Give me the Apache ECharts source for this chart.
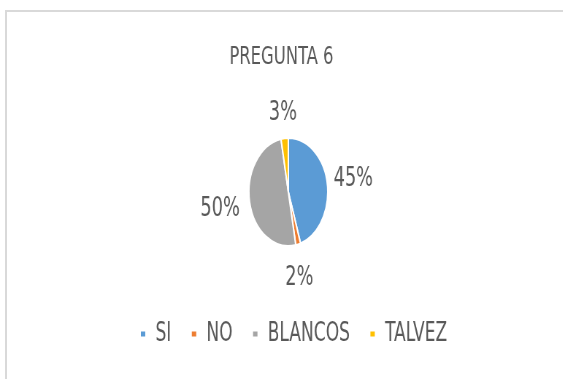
<!DOCTYPE html>
<html>
<head>
<meta charset="utf-8">
<script src="https://cdn.jsdelivr.net/npm/echarts@6/dist/echarts.min.js"></script>
<style>
  html, body { margin: 0; padding: 0; background: #fff; }
  #frame { position: relative; width: 563px; height: 379px; overflow: hidden; background: #fff; }
  #edge { position: absolute; left: 5px; top: 10px; right: -4px; bottom: -4px;
          border-left: 2px solid #d9d9d9; border-top: 2px solid #d9d9d9; }
  /* the chart is laid out wide and squeezed horizontally */
  #chart { position: absolute; left: 0; top: 0; width: 771px; height: 379px;
           transform: scaleX(0.73); transform-origin: 0 0; }
</style>
</head>
<body>
<div id="frame">
  <div id="edge"></div>
  <div id="chart"></div>
</div>
<script>
const titleText = 'PREGUNTA 6';
const categories = ['SI', 'NO', 'BLANCOS', 'TALVEZ'];
const values = [45, 2, 50, 3];
const colors = ['#5b9bd5', '#ed7d31', '#a5a5a5', '#ffc000'];

const font = '"DejaVu Sans Condensed", "Liberation Sans", sans-serif';
const textColor = '#595959';

// label placement per slice: distance beyond the rim and a sideways nudge
const labelPlacement = {
  SI: { reach: 31, dx: 0 },
  NO: { reach: 35, dx: -12 },
  BLANCOS: { reach: 36, dx: 0 },
  TALVEZ: { reach: 25, dx: 5 }
};

const chart = echarts.init(document.getElementById('chart'), null, { renderer: 'canvas' });

chart.setOption({
  animation: false,
  color: colors,
  title: {
    text: titleText,
    left: 'center',
    top: 40,
    textStyle: { fontFamily: font, fontSize: 25, fontWeight: 'normal', color: textColor }
  },
  legend: {
    data: categories,
    left: 186,
    top: 316,
    icon: 'rect',
    itemWidth: 8,
    itemHeight: 7,
    itemGap: 26,
    textStyle: { fontFamily: font, fontSize: 26, color: textColor, padding: [0, 0, 0, 8] }
  },
  series: [{
    type: 'pie',
    center: [395, 192],
    radius: 54,
    startAngle: 90,
    clockwise: true,
    avoidLabelOverlap: false,
    itemStyle: { borderColor: '#fff', borderWidth: 2 },
    label: {
      show: true,
      position: 'outside',
      formatter: '{d}%',
      fontFamily: font,
      fontSize: 27,
      color: textColor
    },
    labelLine: { show: false, length2: 0 },
    labelLayout: (p) => ({
      align: 'center',
      verticalAlign: 'middle',
      dx: labelPlacement[categories[p.dataIndex]].dx
    }),
    data: categories.map((name, i) => ({
      name: name,
      value: values[i],
      labelLine: { show: false, length: labelPlacement[name].reach, length2: 0 }
    }))
  }]
});
</script>
</body>
</html>
